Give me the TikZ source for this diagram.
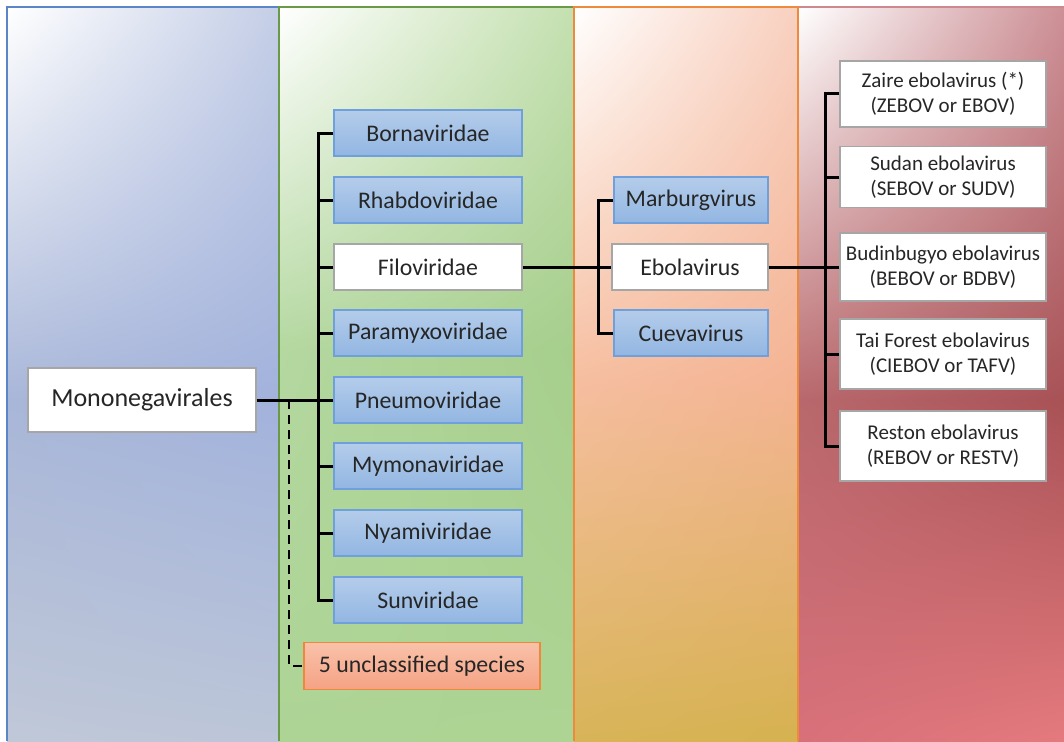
\documentclass[tikz,border=0pt]{standalone}
\usepackage{fontspec}
\setmainfont{Carlito}
\usetikzlibrary{shadings}

\definecolor{txt}{HTML}{262626}
\definecolor{famline}{HTML}{6FA0DC}
\definecolor{famtop}{HTML}{B4CCEA}
\definecolor{fambot}{HTML}{92B6E2}
\definecolor{selline}{HTML}{A6A6A6}
\definecolor{uncline}{HTML}{F0883C}
\definecolor{unctop}{HTML}{F9C2AA}
\definecolor{uncbot}{HTML}{F5A284}
\definecolor{orderline}{HTML}{5B85C6}
\definecolor{famcolline}{HTML}{6A9A48}
\definecolor{gencolline}{HTML}{EE8A3C}
\definecolor{spcolline}{HTML}{D08890}
% column shades
\definecolor{ordA}{HTML}{C4CEE6}
\definecolor{ordB}{HTML}{A8B6D8}
\definecolor{ordC}{HTML}{A2B2DC}
\definecolor{ordD}{HTML}{C0C8D8}
\definecolor{ordE}{HTML}{BCC6D8}
\definecolor{famA}{HTML}{C4E0B0}
\definecolor{famB}{HTML}{B4D8A0}
\definecolor{famC}{HTML}{A6CE8C}
\definecolor{famD}{HTML}{ADD395}
\definecolor{famE}{HTML}{AED494}
\definecolor{genA}{HTML}{F8D0C0}
\definecolor{genB}{HTML}{F6BEA0}
\definecolor{genC}{HTML}{F4B494}
\definecolor{genD}{HTML}{D8B458}
\definecolor{genE}{HTML}{D6B250}
\definecolor{spA}{HTML}{CC9096}
\definecolor{spB}{HTML}{B8686C}
\definecolor{spC}{HTML}{A85256}
\definecolor{spD}{HTML}{D8707A}
\definecolor{spE}{HTML}{E47A7E}

\tikzstyle{box}=[draw, line width=1.2pt, inner sep=0pt, align=center, text=txt]
\tikzstyle{order}=[box, draw=selline, fill=white, minimum width=228pt, minimum height=64pt, font={\fontsize{26}{30}\selectfont}]
\tikzstyle{family}=[box, draw=famline, top color=famtop, bottom color=fambot, minimum width=188pt, minimum height=46pt, font={\fontsize{23.8}{28}\selectfont}]
\tikzstyle{selected}=[box, draw=selline, fill=white, font={\fontsize{23.8}{28}\selectfont}]
\tikzstyle{genus}=[family, minimum width=154pt]
\tikzstyle{species}=[box, draw=selline, fill=white, minimum width=206pt, font={\fontsize{21}{24.5}\selectfont}]
\tikzstyle{unclass}=[box, draw=uncline, top color=unctop, bottom color=uncbot, minimum width=236pt, minimum height=47pt, font={\fontsize{23.8}{28}\selectfont}]
\tikzstyle{branch}=[line width=3pt, black]
\tikzstyle{loose}=[line width=2.2pt, black, dash pattern=on 9pt off 6pt]

\begin{document}
\begin{tikzpicture}[x=1pt,y=-1pt]
    \useasboundingbox (0,0) rectangle (1064,741);

    % column backgrounds
    \shade[upper left=white, upper right=ordA, lower left=ordB, lower right=ordC] (7,7) rectangle (279,400);
    \shade[upper left=ordB, upper right=ordC, lower left=ordD, lower right=ordE] (7,400) rectangle (279,741);
    \shade[upper left=white, upper right=famA, lower left=famB, lower right=famC] (279,7) rectangle (574,350);
    \shade[upper left=famB, upper right=famC, lower left=famD, lower right=famE] (279,350) rectangle (574,741);
    \shade[upper left=white, upper right=genA, lower left=genB, lower right=genC] (574,7) rectangle (798,380);
    \shade[upper left=genB, upper right=genC, lower left=genD, lower right=genE] (574,380) rectangle (798,741);
    \shade[upper left=white, upper right=spA, lower left=spB, lower right=spC] (798,7) rectangle (1064,400);
    \shade[upper left=spB, upper right=spC, lower left=spD, lower right=spE] (798,400) rectangle (1064,741);

    \draw[spcolline, line width=1.5pt] (798,7) -- (1064,7);
    \draw[orderline, line width=1.5pt] (7,741) -- (7,7) -- (279,7) -- (279,741);
    \draw[famcolline, line width=1.5pt] (279,741) -- (279,7) -- (574,7);
    \draw[gencolline, line width=1.5pt] (574,741) -- (574,7) -- (798,7) -- (798,741);

    % order
    \node [order] (mono) at (142,400) {Mononegavirales};

    % families
    \foreach \name/\label/\y in {borna/Bornaviridae/133, rhabdo/Rhabdoviridae/200, paramyxo/Paramyxoviridae/333, pneumo/Pneumoviridae/400, mymona/Mymonaviridae/466, nyami/Nyamiviridae/533, sun/Sunviridae/600}
        \node [family] (\name) at (428,\y) {\label};
    \node [selected, minimum width=188pt, minimum height=46pt] (filo) at (428,267) {Filoviridae};
    \node [unclass] (unc) at (422,666) {5 unclassified species};

    % genera
    \node [genus] (marburg) at (691,200) {Marburgvirus};
    \node [selected, minimum width=156pt, minimum height=46pt] (ebola) at (690,267) {Ebolavirus};
    \node [genus] (cueva) at (691,333) {Cuevavirus};

    % species
    \node [species, minimum height=66pt] (zaire) at (943,94) {Zaire ebolavirus (*)\\(ZEBOV or EBOV)};
    \node [species, minimum height=61pt] (sudan) at (943,177) {Sudan ebolavirus\\(SEBOV or SUDV)};
    \node [species, minimum height=68pt] (bdbv) at (943,267) {Budinbugyo ebolavirus\\(BEBOV or BDBV)};
    \node [species, minimum height=70pt] (tafv) at (943,354) {Tai Forest ebolavirus\\(CIEBOV or TAFV)};
    \node [species, minimum height=70pt] (reston) at (943,446) {Reston ebolavirus\\(REBOV or RESTV)};

    % trunks
    \coordinate (famtrunk) at (318,0);
    \coordinate (dashtrunk) at (289,0);
    \coordinate (gentrunk) at (598,0);
    \coordinate (sptrunk) at (825,0);

    % connectors
    \draw [loose] (mono.east -| dashtrunk) |- (unc.west);
    \draw [branch] (mono.east) -- (mono.east -| famtrunk);
    \draw [branch] (borna.west) -| (sun.west -| famtrunk) -- (sun.west);
    \foreach \name in {rhabdo, filo, paramyxo, pneumo, mymona, nyami}
        \draw [branch] (\name.west) -- (\name.west -| famtrunk);

    \draw [branch] (filo.east) -- (ebola.west);
    \draw [branch] (marburg.west) -| (cueva.west -| gentrunk) -- (cueva.west);

    \draw [branch] (ebola.east) -- (ebola.east -| sptrunk);
    \draw [branch] (zaire.west) -| (reston.west -| sptrunk) -- (reston.west);
    \foreach \name in {sudan, bdbv, tafv}
        \draw [branch] (\name.west) -- (\name.west -| sptrunk);
\end{tikzpicture}
\end{document}
